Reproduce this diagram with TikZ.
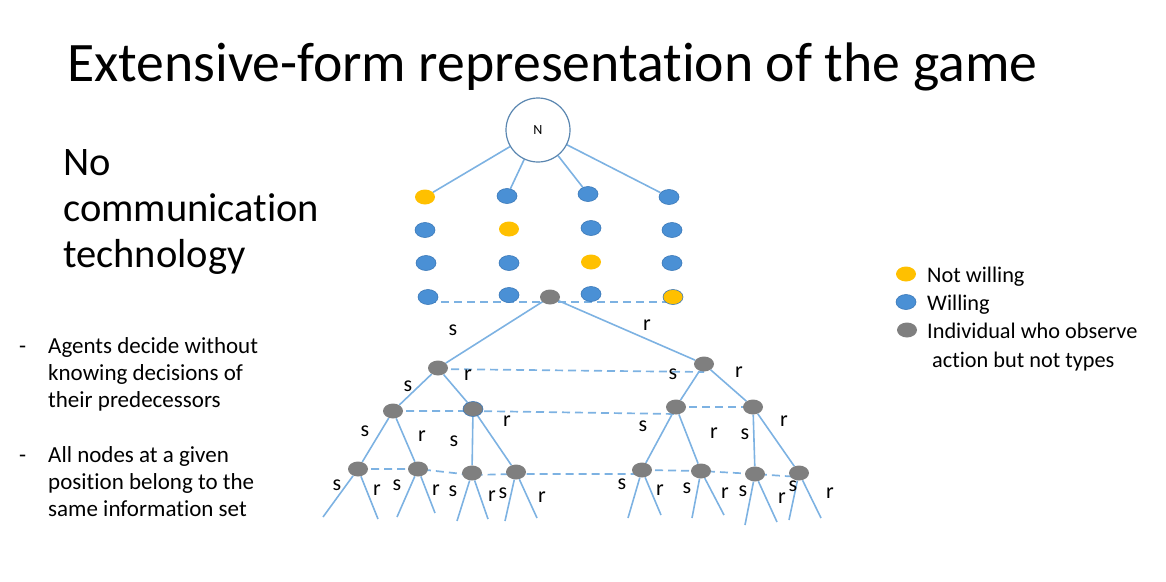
\documentclass[tikz,border=0pt]{standalone}
\usepackage{fontspec}
\setmainfont{Carlito}[Ligatures=NoCommon]
\usetikzlibrary{shapes.geometric,backgrounds}

\definecolor{branchblue}{HTML}{7DB2E2}
\definecolor{dotblue}{HTML}{4A90D5}
\definecolor{dotblueedge}{HTML}{3A78B8}
\definecolor{dotyellow}{HTML}{FFC000}
\definecolor{dotgray}{HTML}{7F7F7F}
\definecolor{natureedge}{HTML}{5A86B0}

\tikzset{
  dot/.style={ellipse, minimum width=20pt, minimum height=15pt, inner sep=0pt},
  willing/.style={dot, fill=dotblue, draw=dotblueedge, line width=0.6pt},
  notwilling/.style={dot, fill=dotyellow},
  notwillingedged/.style={dot, fill=dotyellow, draw=dotblueedge, line width=0.6pt},
  observer/.style={dot, fill=dotgray},
  branch/.style={draw=branchblue, line width=1.6pt},
  infoset/.style={draw=branchblue, line width=1.7pt, dash pattern=on 8pt off 5pt},
  act/.style={font=\fontsize{22}{26}\selectfont, inner sep=0pt},
  bodytext/.style={font=\fontsize{23}{27}\selectfont, inner sep=0pt, anchor=base west},
  legendtext/.style={bodytext, font=\fontsize{22.3}{26}\selectfont},
  bigtext/.style={inner sep=0pt, anchor=base west, font=\fontsize{40.5}{46}\selectfont},
}

\begin{document}
\begin{tikzpicture}[x=1pt, y=-1pt]
\useasboundingbox (0,0) rectangle (1166,581);

% heading and side texts
\node (title) [inner sep=0pt, anchor=base west, font=\fontsize{55.7}{60}\selectfont] at (67,81) {Extensive-form representation of the game};
\node (nocomm1) [bigtext] at (63,175) {No};
\node (nocomm2) [bigtext] at (63,221) {communication};
\node (nocomm3) [bigtext] at (63,267) {technology};

\node (dashA) [bodytext] at (19,353) {-};
\node (bulletA1) [bodytext] at (48,353) {Agents decide without};
\node (bulletA2) [bodytext] at (48,380) {knowing decisions of};
\node (bulletA3) [bodytext] at (48,407) {their predecessors};
\node (dashB) [bodytext] at (19,462) {-};
\node (bulletB1) [bodytext] at (48,462) {All nodes at a given};
\node (bulletB2) [bodytext] at (48,489) {position belong to the};
\node (bulletB3) [bodytext] at (48,516) {same information set};

% legend
\node (legY) [notwilling] at (906,274) {};
\node (legB) [willing] at (906,302) {};
\node (legG) [observer] at (907,330) {};
\node (legYt) [legendtext] at (927,282) {Not willing};
\node (legBt) [legendtext] at (927,310) {Willing};
\node (legGt) [legendtext] at (927,338) {Individual who observe};
\node (legGt2) [legendtext] at (932,367) {action but not types};

% nature and the four type profiles
\node (N) [circle, draw=natureedge, line width=1.2pt, fill=white, minimum size=64pt, inner sep=0pt, font=\fontsize{14}{16}\selectfont] at (538,130) {N};

\node (c11) [notwilling] at (425,197) {};
\node (c12) [willing] at (425,230) {};
\node (c13) [willing] at (426,263) {};
\node (c14) [willing] at (428,297) {};
\node (c21) [willing] at (507,196) {};
\node (c22) [notwilling] at (509,229) {};
\node (c23) [willing] at (509,263) {};
\node (c24) [willing] at (509,295) {};
\node (c31) [willing] at (588,194) {};
\node (c32) [willing] at (591,228) {};
\node (c33) [notwilling] at (591,262) {};
\node (c34) [willing] at (591,294) {};
\node (c41) [willing] at (669,197) {};
\node (c42) [willing] at (672,230) {};
\node (c43) [willing] at (672,263) {};
\node (c44) [notwillingedged] at (673,297) {};

% decision nodes
\node (g0) [observer] at (550,297) {};
\node (g1) [observer] at (438,368) {};
\node (g2) [observer] at (704,364) {};
\node (g11) [observer] at (393,411) {};
\node (g12) [observer, draw=dotblueedge, line width=0.6pt] at (473,409) {};
\node (g21) [observer] at (676,407) {};
\node (g22) [observer] at (753,407) {};
\node (g111) [observer] at (358,469) {};
\node (g112) [observer] at (418,469) {};
\node (g121) [observer] at (472,473) {};
\node (g122) [observer] at (516,472) {};
\node (g211) [observer] at (642,470) {};
\node (g212) [observer] at (701,471) {};
\node (g221) [observer] at (755,474) {};
\node (g222) [observer] at (799,473) {};

% loose ends of the last branches
\coordinate (e1) at (323,517);  \coordinate (e2) at (378,519);
\coordinate (e3) at (397,517);  \coordinate (e4) at (435,513);
\coordinate (e5) at (457,521);  \coordinate (e6) at (488,519);
\coordinate (e7) at (505,521);  \coordinate (e8) at (537,518);
\coordinate (e9) at (628,518);  \coordinate (e10) at (661,515);
\coordinate (e11) at (692,518); \coordinate (e12) at (724,515);
\coordinate (e13) at (745,525); \coordinate (e14) at (777,522);
\coordinate (e15) at (789,520); \coordinate (e16) at (821,518);

\begin{scope}[on background layer]
  % nature's moves
  \draw[branch] (N) -- (c11);
  \draw[branch] (N) -- (c21);
  \draw[branch] (N) -- (c31);
  \draw[branch] (N) -- (c41);
  % information sets
  \draw[infoset] ([yshift=-5pt]c14.center) -- ([yshift=-5pt]c44.center);
  \draw[infoset] ([yshift=-1pt]g1.center) -- ([yshift=-8pt]g2.center);
  \draw[infoset] (g11.center) -- ([yshift=-2pt]g12.center) -- ([yshift=-7pt]g21.center);
  \draw[infoset] (g21.center) -- (g22.center);
  \draw[infoset] (g111.center) -- (g112.center) -- ([yshift=-2pt]g121.center) -- ([yshift=-2pt]g122.center)
                 -- ([yshift=-4pt]g211.center);
  \draw[infoset] (g211.center) -- (g212.center) -- (g221.center) -- ([yshift=-4pt]g222.center);
  % actions
  \draw[branch] (g0.center) -- (g1);
  \draw[branch] (g0.center) -- (g2);
  \draw[branch] (g1) -- (g11);
  \draw[branch] (g1) -- (g12);
  \draw[branch] (g2) -- (g21);
  \draw[branch] (g2) -- (g22);
  \draw[branch] (g11) -- (g111);
  \draw[branch] (g11) -- (g112);
  \draw[branch] (g12) -- (g121);
  \draw[branch] (g12) -- (g122);
  \draw[branch] (g21) -- (g211);
  \draw[branch] (g21) -- (g212);
  \draw[branch] (g22) -- (g221);
  \draw[branch] (g22) -- (g222);
  \draw[branch] (g111) -- (e1);  \draw[branch] (g111) -- (e2);
  \draw[branch] (g112) -- (e3);  \draw[branch] (g112) -- (e4);
  \draw[branch] (g121) -- (e5);  \draw[branch] (g121) -- (e6);
  \draw[branch] (g122) -- (e7);  \draw[branch] (g122) -- (e8);
  \draw[branch] (g211) -- (e9);  \draw[branch] (g211) -- (e10);
  \draw[branch] (g212) -- (e11); \draw[branch] (g212) -- (e12);
  \draw[branch] (g221) -- (e13); \draw[branch] (g221) -- (e14);
  \draw[branch] (g222) -- (e15); \draw[branch] (g222) -- (e16);
\end{scope}

% action labels
\node (l0s) [act] at (453,330) {s};
\node (l0r) [act] at (647,325) {r};
\node (l1s) [act] at (408,386) {s};
\node (l1r) [act] at (468,375) {r};
\node (l2s) [act] at (673,374) {s};
\node (l2r) [act] at (739,372) {r};
\node (l11s) [act] at (365,431) {s};
\node (l11r) [act] at (422,436) {r};
\node (l12s) [act] at (454,441) {s};
\node (l12r) [act] at (507,421) {r};
\node (l21s) [act] at (643,426) {s};
\node (l21r) [act] at (714,433) {r};
\node (l22s) [act] at (745,434) {s};
\node (l22r) [act] at (784,421) {r};
\node (m1s) [act] at (337,485) {s};
\node (m1r) [act] at (377,490) {r};
\node (m2s) [act] at (397,485) {s};
\node (m2r) [act] at (436,490) {r};
\node (m3s) [act] at (453,491) {s};
\node (m3r) [act] at (492,496) {r};
\node (m4s) [act] at (503,493) {s};
\node (m4r) [act] at (542,497) {r};
\node (m5s) [act] at (622,484) {s};
\node (m5r) [act] at (660,490) {r};
\node (m6s) [act] at (687,488) {s};
\node (m6r) [act] at (725,493) {r};
\node (m7s) [act] at (743,491) {s};
\node (m7r) [act] at (782,498) {r};
\node (m8s) [act] at (793,486) {s};
\node (m8r) [act] at (830,493) {r};

\end{tikzpicture}
\end{document}
